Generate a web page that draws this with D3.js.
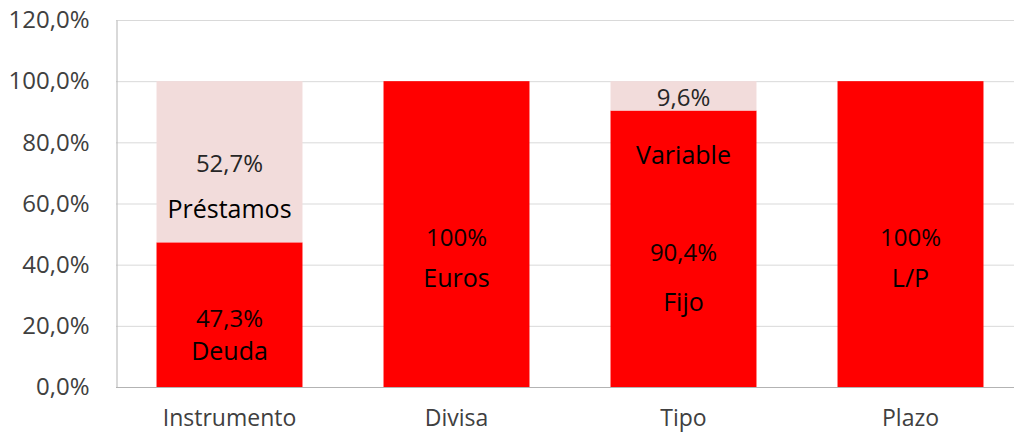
<!DOCTYPE html>
<html>
<head>
<meta charset="utf-8">
<script src="https://cdn.jsdelivr.net/npm/d3@7"></script>
<style>
 body { margin: 0; background: #fff; }
 text { font-family: "Open Sans", sans-serif; }
</style>
</head>
<body>
<script>
// *** chart values
var categories = ["Instrumento", "Divisa", "Tipo", "Plazo"];
var bottomValues = [47.3, 100, 90.4, 100];
var topValues = [52.7, 0, 9.6, 0];
var bottomLabels = ["47,3%", "100%", "90,4%", "100%"];
var topLabels = ["52,7%", "", "9,6%", ""];
var bottomNames = ["Deuda", "Euros", "Fijo", "L/P"];
var topNames = ["Préstamos", "", "Variable", ""];
var yTicks = [0, 20, 40, 60, 80, 100, 120];

var width = 1014
var height = 439
var left = 116
var plotTop = 20
var plotBottom = 387

var svg = d3.select('body')
 .append('svg')
 .attr('width', width)
 .attr('height', height);

var xScale = d3.scaleBand()
 .domain(categories)
 .range([left, left + 908])
 .paddingInner(0.357)
 .paddingOuter(0.1785);

var yScale = d3.scaleLinear()
 .domain([0, 120])
 .range([plotBottom, plotTop]);

// gridlines
svg.append("g")
 .selectAll("line")
 .data(yTicks.slice(1))
 .enter()
 .append("line")
 .attr("x1", left)
 .attr("x2", width)
 .attr("y1", d => yScale(d) + 0.5)
 .attr("y2", d => yScale(d) + 0.5)
 .attr("stroke", "#d9d9d9")
 .attr("stroke-width", 1);

// bottom segment (red)
svg.append("g")
 .selectAll("rect")
 .data(categories)
 .enter()
 .append("rect")
 .attr("x", d => xScale(d))
 .attr("width", xScale.bandwidth())
 .attr("y", (d, i) => yScale(bottomValues[i]))
 .attr("height", (d, i) => yScale(0) - yScale(bottomValues[i]))
 .attr("fill", "#ff0000");

// top segment (light pink)
svg.append("g")
 .selectAll("rect")
 .data(categories)
 .enter()
 .append("rect")
 .attr("x", d => xScale(d))
 .attr("width", xScale.bandwidth())
 .attr("y", (d, i) => yScale(bottomValues[i] + topValues[i]))
 .attr("height", (d, i) => yScale(bottomValues[i]) - yScale(bottomValues[i] + topValues[i]))
 .attr("fill", "#f2dcdb");

// axes
var yAxis = d3.axisLeft(yScale)
 .tickValues(yTicks)
 .tickSize(0)
 .tickPadding(27)
 .tickFormat(d => d3.format(".1f")(d).replace(".", ",") + "%");

var gy = svg.append("g")
 .attr("transform", "translate(" + (left + 0.5) + ",0)")
 .call(yAxis);
gy.select(".domain").attr("stroke", "#b3b3b3");
gy.selectAll("text").attr("fill", "#404040").style("font-size", "24px");

var xAxis = d3.axisBottom(xScale).tickSize(0).tickPadding(22);
var gx = svg.append("g")
 .attr("transform", "translate(0," + (plotBottom + 0.5) + ")")
 .call(xAxis);
gx.select(".domain").attr("d", "M" + left + ",0H" + width).attr("stroke", "#b3b3b3");
gx.selectAll("text").attr("fill", "#404040").style("font-size", "23px");

// *** value labels centred in each segment, names as separate notes
var nameOffsetBottom = [33, 40, 49, 40];
var nameOffsetTop = [45, 0, 57, 0];

var labels = svg.append("g")
 .attr("text-anchor", "middle");

categories.forEach(function(c, i) {
 var cx = xScale(c) + xScale.bandwidth() / 2;
 var by = yScale(bottomValues[i] / 2) + 4;
 labels.append("text").attr("x", cx).attr("y", by).attr("dy", "0.35em")
  .style("font-size", "24px").attr("fill", "#0d0000").text(bottomLabels[i]);
 labels.append("text").attr("x", cx).attr("y", by + nameOffsetBottom[i]).attr("dy", "0.35em")
  .style("font-size", "25px").attr("fill", "#000").text(bottomNames[i]);
 if (topValues[i] > 0) {
  var ty = yScale(bottomValues[i] + topValues[i] / 2) + 2;
  labels.append("text").attr("x", cx).attr("y", ty).attr("dy", "0.35em")
   .style("font-size", "24px").attr("fill", "#262626").text(topLabels[i]);
  labels.append("text").attr("x", cx).attr("y", ty + nameOffsetTop[i]).attr("dy", "0.35em")
   .style("font-size", "25px").attr("fill", "#000").text(topNames[i]);
 }
});
</script>
</body>
</html>
